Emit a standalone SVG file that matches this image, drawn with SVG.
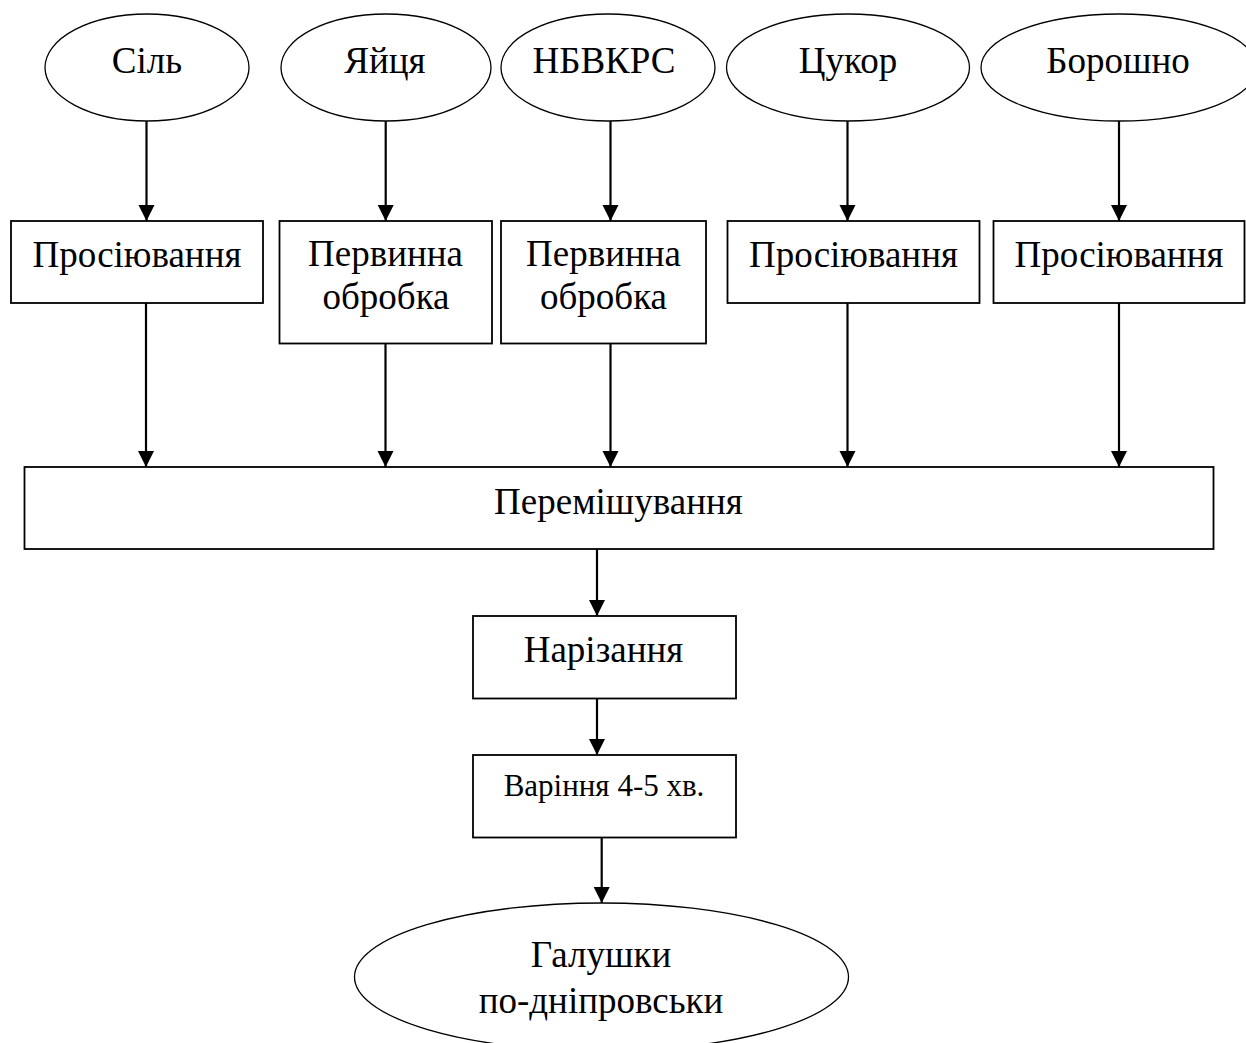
<svg xmlns="http://www.w3.org/2000/svg" width="1246" height="1043" viewBox="0 0 1246 1043">
  <style>
    .box { fill: #ffffff; stroke: #000000; stroke-width: 1.8; }
    .oval { fill: #ffffff; stroke: #000000; stroke-width: 1.3; }
    .lbl { font-family: "Liberation Serif", "Times New Roman", serif; font-size: 37px; fill: #000000; text-anchor: middle; }
    .small { font-size: 31px; }
    .edge { stroke: #000000; stroke-width: 2.2; fill: none; marker-end: url(#arrow); }
  </style>
  <defs>
    <marker id="arrow" markerUnits="userSpaceOnUse" markerWidth="18" markerHeight="18" refX="16" refY="8" orient="auto">
      <path d="M0,0 L16,8 L0,16 Z" fill="#000000"/>
    </marker>
  </defs>
  <rect width="1246" height="1043" fill="#ffffff"/>

  <!-- ingredients -->
  <g id="salt">
    <ellipse class="oval" cx="147" cy="67.5" rx="102" ry="53.5"/>
    <text class="lbl" x="147" y="73">Сіль</text>
  </g>
  <g id="eggs">
    <ellipse class="oval" cx="386" cy="67.5" rx="105" ry="53.5"/>
    <text class="lbl" x="385" y="73">Яйця</text>
  </g>
  <g id="nbvkrs">
    <ellipse class="oval" cx="608" cy="67.5" rx="107" ry="53.5"/>
    <text class="lbl" x="604" y="73">НБВКРС</text>
  </g>
  <g id="sugar">
    <ellipse class="oval" cx="848" cy="67.5" rx="121.5" ry="53.5"/>
    <text class="lbl" x="848" y="73">Цукор</text>
  </g>
  <g id="flour">
    <ellipse class="oval" cx="1119" cy="67.5" rx="138" ry="53.5"/>
    <text class="lbl" x="1118" y="73">Борошно</text>
  </g>

  <!-- preparation steps -->
  <g id="sift-salt">
    <rect class="box" x="11" y="221" width="252" height="82"/>
    <text class="lbl" x="137" y="267">Просіювання</text>
  </g>
  <g id="prep-eggs">
    <rect class="box" x="279.5" y="221" width="212.5" height="122.5"/>
    <text class="lbl" x="385.5" y="266">Первинна</text>
    <text class="lbl" x="386" y="309">обробка</text>
  </g>
  <g id="prep-nbvkrs">
    <rect class="box" x="501" y="221" width="205" height="122.5"/>
    <text class="lbl" x="603.5" y="266">Первинна</text>
    <text class="lbl" x="603.5" y="309">обробка</text>
  </g>
  <g id="sift-sugar">
    <rect class="box" x="727.5" y="221" width="252" height="82"/>
    <text class="lbl" x="853.5" y="267">Просіювання</text>
  </g>
  <g id="sift-flour">
    <rect class="box" x="993.5" y="221" width="251" height="82"/>
    <text class="lbl" x="1119" y="267">Просіювання</text>
  </g>

  <!-- processing -->
  <g id="mixing">
    <rect class="box" x="24.5" y="467" width="1189" height="82"/>
    <text class="lbl" x="618.5" y="513.5">Перемішування</text>
  </g>
  <g id="cutting">
    <rect class="box" x="473" y="616" width="263" height="82.5"/>
    <text class="lbl" x="603.5" y="662">Нарізання</text>
  </g>
  <g id="boiling">
    <rect class="box" x="473" y="755" width="263" height="82.5"/>
    <text class="lbl small" x="604" y="796">Варіння 4-5 хв.</text>
  </g>
  <g id="result">
    <ellipse class="oval" cx="601.5" cy="977" rx="247" ry="74"/>
    <text class="lbl" x="601" y="967">Галушки</text>
    <text class="lbl" x="601" y="1013">по-дніпровськи</text>
  </g>

  <!-- connectors -->
  <g id="connectors">
    <line class="edge" x1="146.5" y1="121" x2="146.5" y2="221"/>
    <line class="edge" x1="385.7" y1="121" x2="385.7" y2="221"/>
    <line class="edge" x1="610.5" y1="121" x2="610.5" y2="221"/>
    <line class="edge" x1="847.5" y1="121" x2="847.5" y2="221"/>
    <line class="edge" x1="1119" y1="121" x2="1119" y2="221"/>

    <line class="edge" x1="146" y1="303" x2="146" y2="467"/>
    <line class="edge" x1="385.5" y1="343.5" x2="385.5" y2="467"/>
    <line class="edge" x1="610.5" y1="343.5" x2="610.5" y2="467"/>
    <line class="edge" x1="847.5" y1="303" x2="847.5" y2="467"/>
    <line class="edge" x1="1119" y1="303" x2="1119" y2="467"/>

    <line class="edge" x1="597" y1="549" x2="597" y2="616"/>
    <line class="edge" x1="597" y1="698.5" x2="597" y2="755"/>
    <line class="edge" x1="601.7" y1="837.5" x2="601.7" y2="903"/>
  </g>
</svg>
